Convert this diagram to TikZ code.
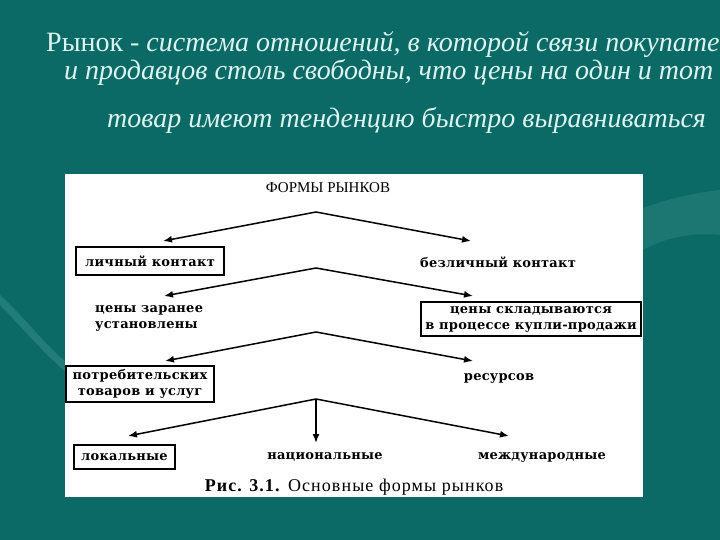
\documentclass[tikz,border=0pt]{standalone}
\usepackage{fontspec}
\setmainfont{Liberation Serif}
\newfontfamily\diagfont[LetterSpace=2]{DejaVu Serif}
\newfontfamily\capfont[LetterSpace=6]{Liberation Serif}
\usetikzlibrary{arrows.meta}
\definecolor{bgteal}{HTML}{0B6A66}
\definecolor{swoosh}{HTML}{3E8F8A}
\definecolor{titlecol}{HTML}{DDF3F0}
\tikzset{
  lbl/.style={font=\diagfont\bfseries\fontsize{13}{16}\selectfont, inner sep=1pt, align=center},
  boxed/.style={lbl, draw=black, line width=1.6pt, inner sep=0pt},
  arr/.style={line width=1.5pt, -{Latex[length=9pt,width=7pt]}},
  ttl/.style={text=titlecol, anchor=base west, inner sep=0pt, font=\fontsize{28}{32}\selectfont}
}
\begin{document}
\begin{tikzpicture}[x=1pt,y=-1pt]
\useasboundingbox (0,0) rectangle (720,540);
\fill[bgteal] (0,0) rectangle (720,540);
% swooshes
\fill[swoosh, opacity=0.5] (0,295) .. controls (25,318) and (45,345) .. (66,362) -- (66,372) .. controls (45,355) and (20,325) .. (0,305) -- cycle;
\fill[swoosh, opacity=0.35] (643,208) .. controls (670,198) and (700,192) .. (720,190) -- (720,235) .. controls (690,232) and (665,238) .. (643,250) -- cycle;
% title
\node[ttl] (t1) at (46,52) {Рынок - \textit{система отношений, в которой связи покупате}};
\node[ttl] (t2) at (64,80) {\textit{и продавцов столь свободны, что цены на один и тот}};
\node[ttl] (t3) at (107,128) {\textit{товар имеют тенденцию быстро выравниваться}};
% panel
\fill[white] (65,174) rectangle (643,497);
\node[font=\fontsize{15}{16}\selectfont] (fr) at (328,188) {ФОРМЫ РЫНКОВ};
\coordinate (a1) at (316,212);
\coordinate (a2) at (316,268);
\coordinate (a3) at (316,332);
\coordinate (a4) at (316,399);
\coordinate (l1) at (163,241); \coordinate (r1) at (471,241);
\coordinate (l2) at (164,296); \coordinate (r2) at (473,296);
\coordinate (l3) at (165,361); \coordinate (r3) at (473,361);
\coordinate (l4) at (128,436); \coordinate (d4) at (316,443); \coordinate (r4) at (509,436);
\draw[arr] (a1) -- (l1); \draw[arr] (a1) -- (r1);
\draw[arr] (a2) -- (l2); \draw[arr] (a2) -- (r2);
\draw[arr] (a3) -- (l3); \draw[arr] (a3) -- (r3);
\draw[arr] (a4) -- (l4); \draw[arr] (a4) -- (d4); \draw[arr] (a4) -- (r4);
\node[boxed, minimum width=148pt, minimum height=28pt] (lk) at (150,261) {личный контакт};
\node[lbl] (bk) at (498,262) {безличный контакт};
\node[lbl, anchor=west, align=left] (cz) at (94,318) {цены заранее\\установлены};
\node[boxed, minimum width=220pt, minimum height=34pt] (cs) at (531,319) {цены складываются\\в процессе купли-продажи};
\node[boxed, minimum width=148pt, minimum height=36pt] (pt) at (140,384) {потребительских\\товаров и услуг};
\node[lbl] (rs) at (499,378) {ресурсов};
\node[boxed, minimum width=101pt, minimum height=24pt] (lo) at (124.5,457) {локальные};
\node[lbl] (na) at (325,457) {национальные};
\node[lbl] (md) at (542,457) {международные};
\node[font=\capfont\fontsize{18}{20}\selectfont] (cap) at (354,487) {\textbf{Рис. 3.1.} Основные формы рынков};
\end{tikzpicture}
\end{document}
